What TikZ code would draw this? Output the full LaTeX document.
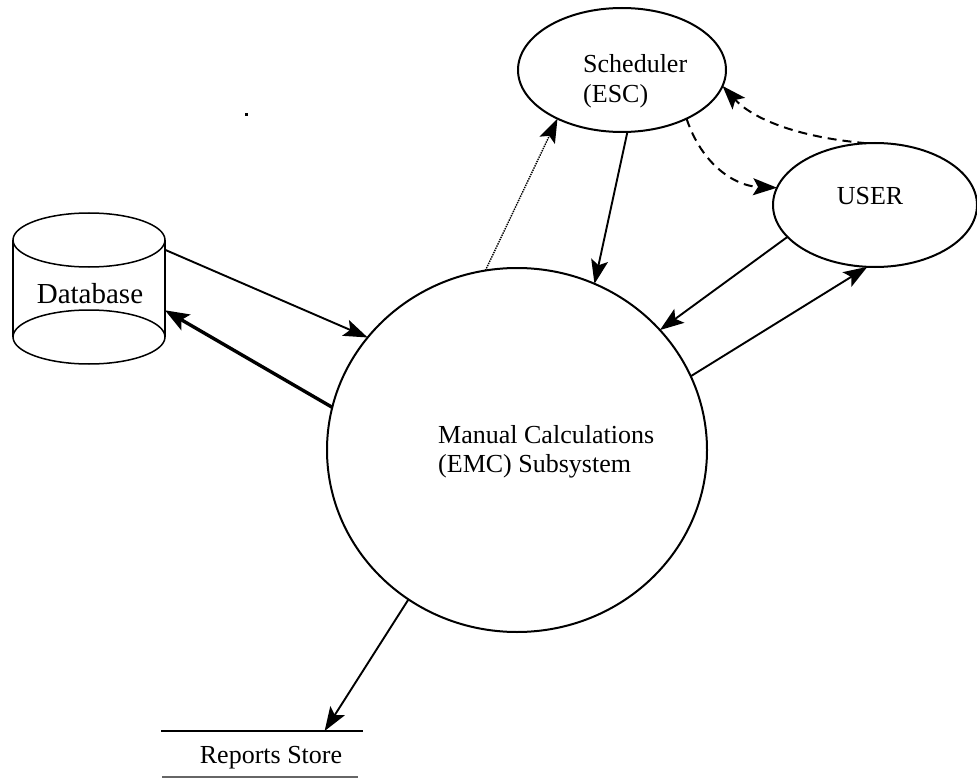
\documentclass[tikz,border=0pt]{standalone}
\usepackage{fontspec}
\setmainfont{Liberation Serif}
\usetikzlibrary{arrows.meta,shapes.geometric,calc}

\tikzset{
  process/.style={ellipse, draw, line width=2pt, inner sep=0pt, outer sep=0pt},
  label26/.style={font=\fontsize{26}{30}\selectfont, inner sep=0pt, anchor=base west},
  tip/.style={-{Stealth[length=24pt,width=17pt,inset=5pt]}},
  flow/.style={line width=1.9pt, tip},
  heavyflow/.style={line width=3.4pt, -{Stealth[length=24pt,width=18pt,inset=5pt]}},
  dottedflow/.style={line width=1.4pt, dash pattern=on 1.4pt off 1pt, tip},
  dashedflow/.style={line width=2pt, dash pattern=on 9pt off 6pt, tip},
}

\begin{document}
\begin{tikzpicture}[x=1pt,y=-1pt]
\useasboundingbox (0,0) rectangle (977,778);

% processes
\node[process, minimum width=208pt, minimum height=124pt] (sch) at (622,70) {};
\node[process, minimum width=204pt, minimum height=124pt] (user) at (875,205) {};
\node[process, minimum width=380pt, minimum height=364pt] (main) at (517,450) {};

\node[label26] (schtxt) at (583,73) {Scheduler};
\node[label26] (esctxt) at (583,103) {(ESC)};
\node[label26, anchor=base] (usertxt) at (870,205) {USER};
\node[label26] (maintxt) at (438,443) {Manual Calculations};
\node[label26] (emctxt) at (438,472) {(EMC) Subsystem};

% database cylinder
\node[rectangle, inner sep=0pt, outer sep=0pt, minimum width=152pt, minimum height=97pt] (db) at (89,288.5) {};
\draw[line width=1.5pt] (89,240) ellipse [x radius=76pt, y radius=27pt];
\draw[line width=1.5pt] (89,337) ellipse [x radius=76pt, y radius=27pt];
\draw[line width=1.5pt] (13,240) -- (13,337) (165,240) -- (165,337);
\node[font=\fontsize{29}{34}\selectfont, inner sep=0pt, anchor=base] (dbtxt) at (90,303) {Database};

% reports store
\node[rectangle, inner sep=0pt, outer sep=0pt, minimum width=202pt, minimum height=46pt] (rep) at (262,754) {};
\draw[line width=2.4pt] (rep.north west) -- (rep.north east);
\draw[line width=1.2pt, black!60] ($(rep.south west)+(1,0)$) -- ($(rep.south east)+(-5,0)$);
\node[label26, anchor=base] (reptxt) at (271,763) {Reports Store};

% stray mark
\fill (244.5,113.5) rectangle (247.5,116.5);

% flows
\draw[flow] (db.27) -- (main.143);
\draw[heavyflow] (main.167) -- (db.344);
\draw[dottedflow] (main.100) -- (sch.217);
\draw[flow] (sch.275) -- (main.65);
\draw[flow] (user.200) -- (main.40);
\draw[flow] (main.23) -- (user.263);
\draw[flow] (main.234) -- ($(rep.north west)!0.81!(rep.north east)$);
\draw[dashedflow] (sch.323) .. controls (702,165) and (735,186) .. (user.170);
\draw[dashedflow] (user.98) .. controls (795,137) and (752,118) .. (sch.351);
\end{tikzpicture}
\end{document}
